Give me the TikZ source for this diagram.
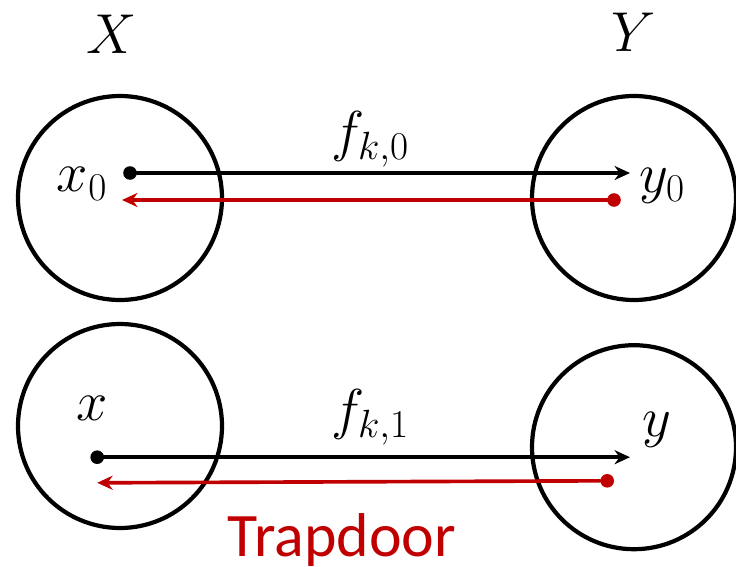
\RequirePackage{fix-cm}
\documentclass[tikz,border=0pt]{standalone}
\usepackage{amsmath,amssymb}
\usepackage{fontspec}
\newfontfamily\labelfont{Carlito}
\usetikzlibrary{arrows.meta}

\begin{document}
\begin{tikzpicture}[>={Stealth[length=11pt,width=10pt]}, font=\fontsize{40}{44}\selectfont, line join=round, line cap=round]
	\definecolor{tdred}{RGB}{192,0,0}
	\tikzset{
		set/.style={circle, draw, line width=3pt, minimum size=5.1cm, inner sep=0pt},
		dot/.style={circle, fill, inner sep=0pt, minimum size=0.34cm},
		fwd/.style={->, line width=2.6pt},
		back/.style={->, line width=2.6pt, tdred}
	}
	\def\xl{3} \def\xr{15.85} % tâm
	\useasboundingbox (0,0) rectangle (18.4,-14.15);

	% hàng trên
	\node[set] (A0) at (\xl,-4.95) {};
	\node[set] (B0) at (\xr,-4.95) {};
	\node (X) at (2.8,-0.85) {$X$};
	\node (Y) at (15.85,-0.8) {$Y$};
	\node[dot] (x0) at (3.25,-4.325) {};
	\coordinate (y0tip) at (15.75,-4.325);
	\node[dot, tdred] (y0) at (15.35,-5.0) {};
	\coordinate (x0tip) at (3.05,-5.0);
	\node (x0lab) at (2.05,-4.6) {$x_0$};
	\node (y0lab) at (16.55,-4.65) {$y_0$};
	\draw[fwd] (x0) -- (y0tip);
	\draw[back] (y0) -- (x0tip);
	\node[anchor=south, inner sep=0pt] (f0) at (9.25,-4.18) {$f_{k,0}$};

	% hàng dưới
	\node[set] (A1) at (\xl,-10.65) {};
	\node[set] (B1) at (\xr,-11.18) {};
	\node[dot] (x1) at (2.43,-11.43) {};
	\coordinate (y1tip) at (15.75,-11.43);
	\node[dot, tdred] (y1) at (15.18,-12.02) {};
	\coordinate (x1tip) at (2.43,-12.07);
	\node (x1lab) at (2.3,-10.2) {$x$};
	\node (y1lab) at (16.42,-10.75) {$y$};
	\draw[fwd] (x1) -- (y1tip);
	\draw[back] (y1) -- (x1tip);
	\node[anchor=south, inner sep=0pt] (f1) at (9.25,-11.13) {$f_{k,1}$};
	\node[tdred] (trap) at (8.55,-13.5) {\labelfont\fontsize{44}{48}\selectfont Trapdoor};
\end{tikzpicture}
\end{document}
